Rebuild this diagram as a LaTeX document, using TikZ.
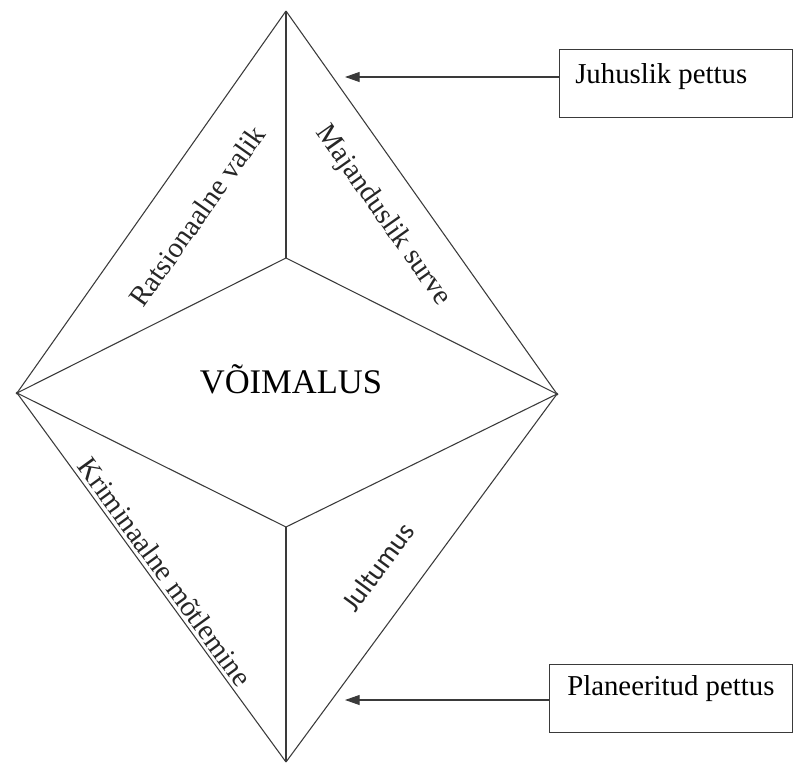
\documentclass[tikz,border=0pt]{standalone}
\usepackage{fontspec}
\setmainfont{Liberation Serif}
\newfontfamily\calib{Carlito}
\usetikzlibrary{arrows.meta}
\definecolor{ln}{HTML}{3A3A3A}
\begin{document}
\begin{tikzpicture}[x=0.75pt,y=-0.75pt,
  edge/.style={draw=ln,line width=0.8pt},
  arr/.style={draw=ln,line width=0.8pt,-{Triangle[length=11pt,width=7.5pt]}},
  boxstyle/.style={draw=ln,line width=1pt,inner sep=0pt,anchor=north west},
  lbl/.style={font=\fontsize{21.6pt}{24pt}\selectfont,inner sep=0pt,text=black},
  side/.style={font=\fontsize{21.6pt}{24pt}\selectfont,inner sep=0pt,text=black!85}
]
\useasboundingbox (0,0) rectangle (794,764);
% vertices
\coordinate (T) at (286,11);
\coordinate (B) at (286,762);
\coordinate (L) at (17,393);
\coordinate (R) at (557,394);
\coordinate (IT) at (286,258);
\coordinate (IB) at (286,527);
% outer and inner edges
\draw[edge] (T) -- (L);
\draw[edge] (T) -- (R);
\draw[edge] (L) -- (B);
\draw[edge] (R) -- (B);
\draw[edge] (T) -- (IT);
\draw[edge] (IT) -- (L);
\draw[edge] (IT) -- (R);
\draw[edge] (IB) -- (L);
\draw[edge] (IB) -- (R);
\draw[edge] (IB) -- (B);
\fill[ln] (L) circle (1.5);
\fill[ln] (R) circle (1.5);
% labels
\node[side,rotate=54.8] (rv) at (197,216) {Ratsionaalne valik};
\node[side,rotate=-54.7] (ms) at (383,216) {Majanduslik surve};
\node[side,rotate=-54] (km) at (165,572) {Kriminaalne mõtlemine};
\node[side,rotate=53.7,font=\calib\fontsize{21pt}{24pt}\selectfont] (ju) at (378,567) {Jultumus};
\node[font=\fontsize{25.9pt}{30pt}\selectfont,inner sep=0pt,anchor=base] (vo) at (291,393) {VÕIMALUS};
% boxes
\node[boxstyle,minimum width=233*0.75pt,minimum height=68*0.75pt] (b1) at (559,49) {};
\node[lbl,anchor=base west] (t1) at (575,83) {Juhuslik pettus};
\node[boxstyle,minimum width=243*0.75pt,minimum height=68*0.75pt] (b2) at (549,664) {};
\node[lbl,anchor=base west] (t2) at (567,695) {Planeeritud pettus};
% arrows
\coordinate (a1) at (345,77);
\coordinate (a2) at (345,700);
\draw[arr] (b1.west |- a1) -- (a1);
\draw[arr] (b2.west |- a2) -- (a2);
\end{tikzpicture}
\end{document}
